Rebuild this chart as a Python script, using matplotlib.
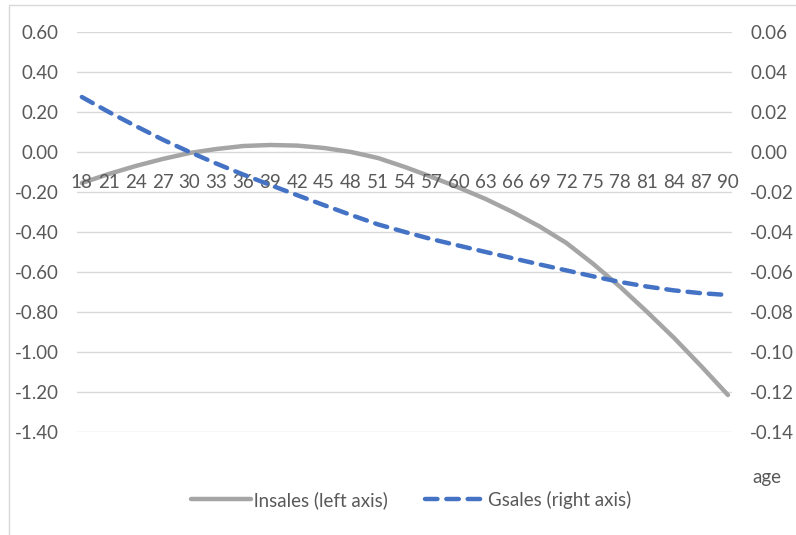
import matplotlib.pyplot as plt
from matplotlib.patches import Rectangle

plt.rcParams['font.family'] = ['Lato', 'DejaVu Sans']

ages = list(range(18, 91, 3))

# lnsales, read on the left axis
lnsales = [-0.155, -0.11, -0.07, -0.035, -0.005, 0.015, 0.03, 0.035, 0.032,
           0.02, 0.0, -0.03, -0.075, -0.125, -0.178, -0.235, -0.30, -0.372,
           -0.455, -0.56, -0.675, -0.80, -0.93, -1.07, -1.215]

# Gsales, read on the right axis
gsales = [0.0275, 0.0200, 0.0130, 0.0062, 0.0, -0.0058, -0.0113, -0.0165,
          -0.0216, -0.0266, -0.0315, -0.0362, -0.0400, -0.0436, -0.0468,
          -0.0500, -0.0531, -0.0562, -0.0592, -0.0622, -0.0650, -0.0673,
          -0.0692, -0.0706, -0.0715]

left_ticks = [0.6, 0.4, 0.2, 0.0, -0.2, -0.4, -0.6, -0.8, -1.0, -1.2, -1.4]
right_ticks = [0.06, 0.04, 0.02, 0.0, -0.02, -0.04, -0.06, -0.08, -0.10, -0.12, -0.14]

txt = '#595959'
grid = '#d9d9d9'
fs = 13.5
W, H = 796, 535

fig = plt.figure(figsize=(W / 100, H / 100), dpi=100)

# outer chart border
fig.patches.append(Rectangle((9 / W, -0.1), 1.2, 1.1 - 5 / H, transform=fig.transFigure,
                             fill=False, edgecolor=grid, lw=1.0))

ax = fig.add_axes([77 / W, (H - 432) / H, (732 - 77) / W, 400 / H])
ax2 = ax.twinx()

x = list(range(len(ages)))
for t in left_ticks:
    ax.axhline(t, color=grid, lw=1.0, zorder=0)

l1, = ax.plot(x, lnsales, color='#a5a5a5', lw=3.2, solid_capstyle='round', zorder=3)
l2, = ax2.plot(x, gsales, color='#4472c4', lw=3.2, dashes=(2.8, 2.0),
               dash_capstyle='round', zorder=3)

ax.set_xlim(-0.18, 24.15)
ax.set_ylim(-1.4, 0.6)
ax2.set_ylim(-0.14, 0.06)

ax.set_yticks(left_ticks)
ax.set_yticklabels([f'{v:.2f}' for v in left_ticks])
ax2.set_yticks(right_ticks)
ax2.set_yticklabels([f'{v:.2f}' for v in right_ticks])
ax.set_xticks([])

for a in (ax, ax2):
    for s in a.spines.values():
        s.set_visible(False)
    a.tick_params(axis='y', length=0, labelsize=fs, labelcolor=txt, pad=13)
    a.patch.set_visible(False)

# category labels sit on the zero line
for i, age in enumerate(ages):
    ax.annotate(str(age), (i, 0), xytext=(0, -22), textcoords='offset points',
                ha='center', va='center', fontsize=fs, color=txt)

fig.text(752 / W, 1 - 478 / H, 'age', ha='left', va='center', fontsize=fs, color=txt)

fig.legend([l1, l2], ['lnsales (left axis)', 'Gsales (right axis)'],
           loc='center', bbox_to_anchor=(411 / W, 1 - 500 / H), ncol=2,
           frameon=False, fontsize=fs, labelcolor=txt, handlelength=3.2,
           handletextpad=0.15, columnspacing=2.0)

fig.savefig('out.png', dpi=100)
